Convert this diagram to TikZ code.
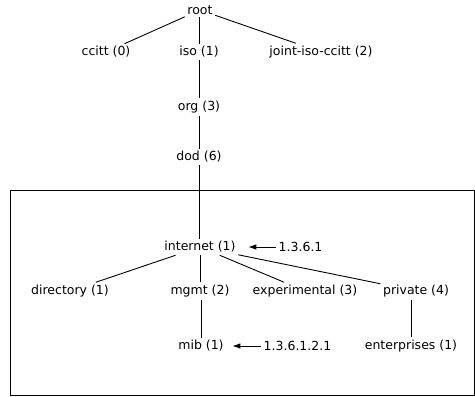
\documentclass[tikz,border=0pt]{standalone}
\usepackage{fontspec}
\setmainfont{DejaVu Sans}
\usepackage{tikz}
\usetikzlibrary{arrows, arrows.meta, positioning}

\begin{document}
\begin{tikzpicture}[x=1pt, y=-1pt, font=\fontsize{12.5}{14}\selectfont]
\tikzstyle{oid} = [inner sep=2.5pt]
\tikzstyle{line} = [draw, line width=0.9pt]
\tikzstyle{ptr} = [draw, line width=0.9pt, -{Latex[length=8pt, width=5.5pt]}]
\useasboundingbox (0,0) rectangle (475,397);
\node [oid] (root) at (200,10) {root};
\node [oid] (ccitt) at (106,52) {ccitt (0)};
\node [oid] (iso) at (199,52) {iso (1)};
\node [oid] (joint) at (321,52) {joint-iso-ccitt (2)};
\node [oid] (org) at (199,107) {org (3)};
\node [oid] (dod) at (199,157) {dod (6)};
\node [oid] (internet) at (200,247) {internet (1)};
\node [oid, anchor=west] (inetoid) at (276,247) {1.3.6.1};
\node [oid] (directory) at (70,291) {directory (1)};
\node [oid] (mgmt) at (200,291) {mgmt (2)};
\node [oid] (experimental) at (305,291) {experimental (3)};
\node [oid] (private) at (416,291) {private (4)};
\node [oid] (mib) at (201,346) {mib (1)};
\node [oid, anchor=west] (miboid) at (261,346) {1.3.6.1.2.1};
\node [oid] (enterprises) at (411,346) {enterprises (1)};
% internet subtree frame
\draw [line width=0.9pt] (10,190) rectangle (474,395);
\path [line] (root) -- (ccitt);
\path [line] (root.south -| iso) -- (iso);
\path [line] (root) -- (joint);
\path [line] (iso) -- (org);
\path [line] (org) -- (dod);
\path [line] (dod) -- (internet.north -| dod);
\path [line] (internet) -- (directory);
\path [line] (internet.south -| mgmt.north) -- (mgmt.north);
\path [line] (internet) -- (experimental);
\path [line] (internet) -- (private);
\path [line] (mgmt.south -| mib.north) -- (mib);
\path [line] (private.south -| enterprises.north) -- (enterprises);
\path [ptr, shorten >=10pt] (inetoid) -- (internet);
\path [ptr, shorten >=6pt] (miboid) -- (mib);
\end{tikzpicture}
\end{document}
